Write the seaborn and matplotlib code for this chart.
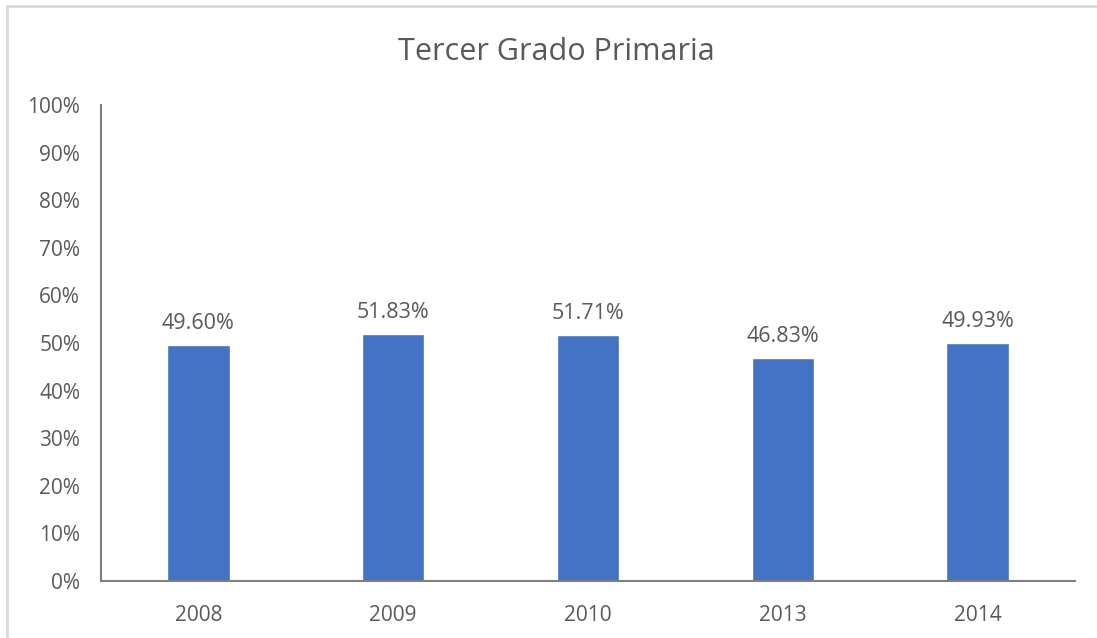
import matplotlib
matplotlib.use("Agg")
import matplotlib.pyplot as plt
import seaborn as sns
import pandas as pd
from matplotlib.lines import Line2D
from matplotlib.ticker import PercentFormatter

years = ["2008", "2009", "2010", "2013", "2014"]
values = [49.60, 51.83, 51.71, 46.83, 49.93]
labels = ["49.60%", "51.83%", "51.71%", "46.83%", "49.93%"]
title = "Tercer Grado Primaria"

sns.set_style("white")
plt.rcParams['font.family'] = ['Open Sans', 'DejaVu Sans']

df = pd.DataFrame({"year": years, "value": values})

fig = plt.figure(figsize=(10.97, 6.38), dpi=100)
ax = fig.add_axes([101/1097, 1-581/638, (1075-101)/1097, (581-105)/638])
sns.barplot(data=df, x="year", y="value", color="#4472C4", width=0.32,
            saturation=1, ax=ax)

txt = "#595959"
ax.set_ylim(0, 100)
ax.set_xlim(-0.5, 4.5)
ax.set_yticks(range(0, 101, 10))
ax.yaxis.set_major_formatter(PercentFormatter(decimals=0))
ax.tick_params(axis="y", length=0, labelsize=15, colors=txt, pad=15)
ax.tick_params(axis="x", length=0, labelsize=15, colors=txt, pad=17)
ax.set_xlabel("")
ax.set_ylabel("")
for s in ["top", "right"]:
    ax.spines[s].set_visible(False)
for s in ["left", "bottom"]:
    ax.spines[s].set_color("#7F7F7F")
    ax.spines[s].set_linewidth(1.5)

for i, (v, l) in enumerate(zip(values, labels)):
    ax.annotate(l, (i, v), xytext=(0, 8), textcoords="offset points",
                ha="center", va="bottom", fontsize=15.5, color=txt)

fig.text(556/1097, 1-52/638, title, ha="center", va="center", fontsize=22, color=txt)

# light border on top and left (as in reference crop)
fig.add_artist(Line2D([7/1097, 1], [1-6/638, 1-6/638], transform=fig.transFigure,
                      color="#D9D9D9", lw=2))
fig.add_artist(Line2D([7/1097, 7/1097], [0, 1-6/638], transform=fig.transFigure,
                      color="#D9D9D9", lw=2))

fig.savefig("out.png", dpi=100)
